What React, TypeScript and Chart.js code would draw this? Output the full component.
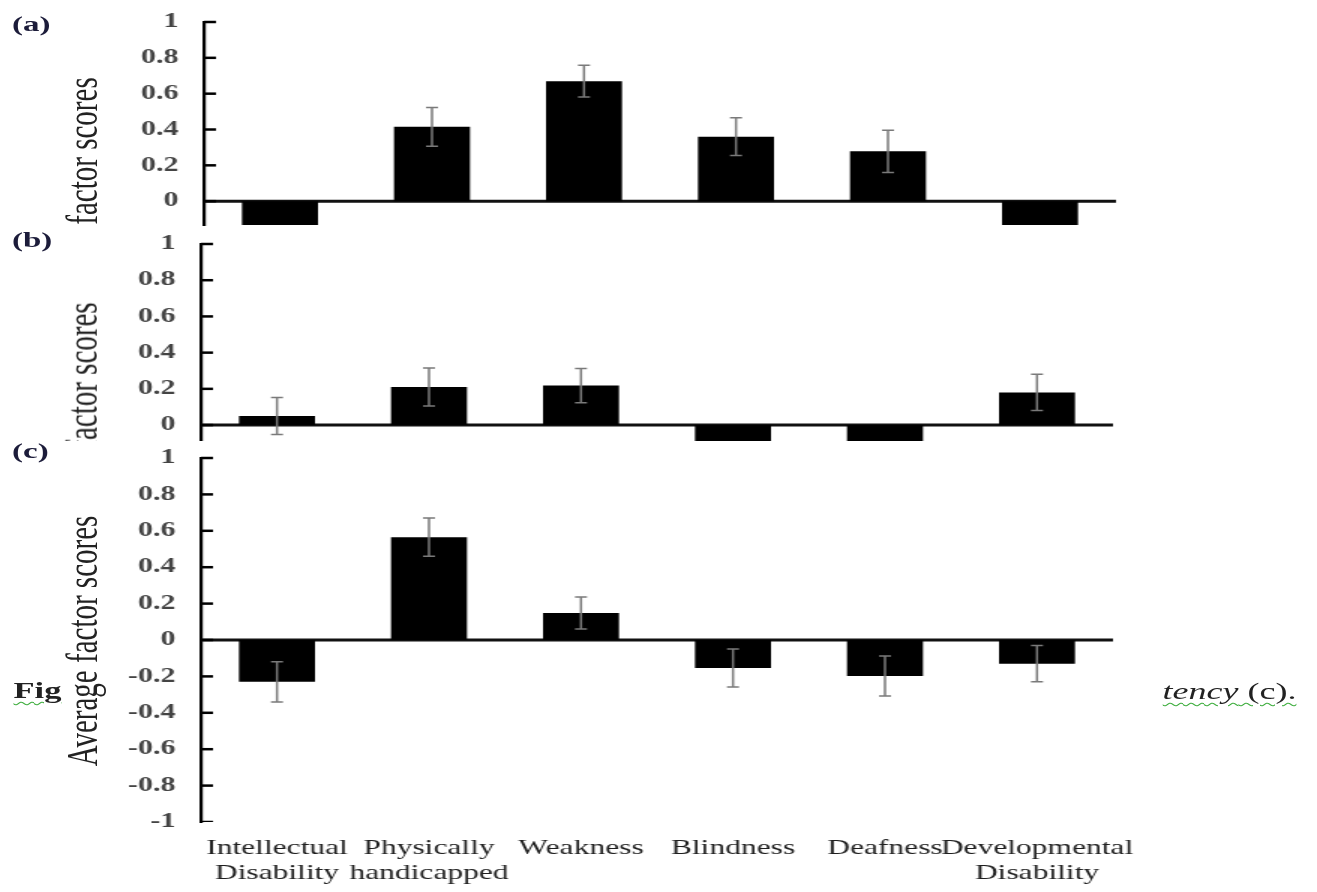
import React, { useEffect, useRef } from 'react';
import { Chart, registerables } from 'chart.js';

Chart.register(...registerables);

// ---------- data ----------
const CATEGORIES: string[][] = [
  ['Intellectual', 'Disability'],
  ['Physically', 'handicapped'],
  ['Weakness'],
  ['Blindness'],
  ['Deafness'],
  ['Developmental', 'Disability'],
];

const A_VALUES = [-0.25, 0.415, 0.67, 0.36, 0.278, -0.25];
const A_ERRORS = [0.1, 0.108, 0.088, 0.105, 0.118, 0.1];

const B_VALUES = [0.05, 0.21, 0.218, -0.2, -0.2, 0.18];
const B_ERRORS = [0.102, 0.105, 0.095, 0.1, 0.1, 0.1];

const C_VALUES = [-0.23, 0.565, 0.148, -0.154, -0.198, -0.13];
const C_ERRORS = [0.11, 0.105, 0.088, 0.104, 0.11, 0.1];

const Y_TICKS_POS = [0, 0.2, 0.4, 0.6, 0.8, 1];
const Y_TICKS_FULL = [-1, -0.8, -0.6, -0.4, -0.2, 0, 0.2, 0.4, 0.6, 0.8, 1];

// ---------- layout ----------
const STRETCH = 1.5;
const PAGE_W = 1317 / STRETCH;
const SERIF = '"Liberation Serif", "Times New Roman", serif';

const fmt = (v: number) => Number(v).toFixed(1).replace(/\.0$/, '');

type PanelProps = {
  top: number;
  height: number;
  values: number[];
  errors: number[];
  yMin: number;
  yMax: number;
  ticks: number[];
  axisLeft: number;
  axisRight: number;
  chartTop: number;
  chartBottom: number;
  showX: boolean;
  title: string;
  titleY: number;
};

function BarPanel(p: PanelProps) {
  const ref = useRef<HTMLCanvasElement | null>(null);

  useEffect(() => {
    if (!ref.current) return;
    const decor = {
      id: 'decor',
      beforeDatasetsDraw(chart: any) {
        const { ctx, chartArea, scales } = chart;
        const y = scales.y;
        ctx.save();
        ctx.beginPath();
        ctx.rect(chartArea.left - 2, chartArea.top - 3, chartArea.width + 6, chartArea.height + 4);
        ctx.clip();
        const y0 = y.getPixelForValue(0);
        ctx.strokeStyle = '#111';
        ctx.lineWidth = 3;
        ctx.beginPath();
        ctx.moveTo(chartArea.left, y0);
        ctx.lineTo(chartArea.right, y0);
        ctx.stroke();
        ctx.restore();
      },
      afterDatasetsDraw(chart: any) {
        const { ctx, chartArea, scales } = chart;
        const y = scales.y;
        ctx.save();
        ctx.beginPath();
        ctx.rect(chartArea.left - 2, chartArea.top - 3, chartArea.width + 6, chartArea.height + 3);
        ctx.clip();
        // inward tick marks
        ctx.strokeStyle = '#000';
        ctx.lineWidth = 2.5;
        y.ticks.forEach((t: any) => {
          const py = y.getPixelForValue(t.value);
          ctx.beginPath();
          ctx.moveTo(chartArea.left, py);
          ctx.lineTo(chartArea.left + 8, py);
          ctx.stroke();
        });
        // error bars
        const meta = chart.getDatasetMeta(0);
        ctx.strokeStyle = '#7a7a7a';
        ctx.lineWidth = 1.5;
        meta.data.forEach((bar: any, i: number) => {
          const v = p.values[i];
          const e = p.errors[i];
          const yt = y.getPixelForValue(v + e);
          const yb = y.getPixelForValue(v - e);
          const cap = 4;
          ctx.beginPath();
          ctx.moveTo(bar.x, yt);
          ctx.lineTo(bar.x, yb);
          ctx.moveTo(bar.x - cap, yt);
          ctx.lineTo(bar.x + cap, yt);
          ctx.moveTo(bar.x - cap, yb);
          ctx.lineTo(bar.x + cap, yb);
          ctx.stroke();
        });
        ctx.restore();
      },
    };

    const chart = new Chart(ref.current, {
      type: 'bar',
      data: {
        labels: CATEGORIES,
        datasets: [
          {
            data: p.values,
            backgroundColor: '#000',
            borderWidth: 0,
            barPercentage: 0.5,
            categoryPercentage: 1,
          },
        ],
      },
      options: {
        animation: false,
        responsive: false,
        events: [],
        layout: {
          padding: {
            left: 0,
            right: PAGE_W - p.axisRight,
            top: p.chartTop,
            bottom: p.showX ? 0 : p.height - p.chartBottom,
          },
        },
        plugins: { legend: { display: false }, tooltip: { enabled: false } },
        scales: {
          x: {
            display: p.showX,
            grid: { display: false, drawTicks: false },
            border: { display: false },
            ticks: {
              autoSkip: false,
              maxRotation: 0,
              minRotation: 0,
              padding: 14,
              color: '#1e1e1e',
              font: { family: SERIF, size: 21 },
            },
            afterFit: (s: any) => {
              s.height = p.height - p.chartBottom;
              s.paddingLeft = 0;
              s.paddingRight = 0;
            },
          },
          y: {
            min: p.yMin,
            max: p.yMax,
            grid: { display: false, drawTicks: false },
            border: { display: true, color: '#000', width: 2.2 },
            ticks: {
              padding: 17,
              color: '#444',
              font: { family: SERIF, size: 20, weight: 'bold' },
              callback: (v: any) => fmt(Number(v)),
            },
            afterBuildTicks: (s: any) => {
              s.ticks = p.ticks.map((value) => ({ value }));
            },
            afterFit: (s: any) => {
              s.width = p.axisLeft;
              s.paddingTop = 0;
              s.paddingBottom = 0;
            },
          },
        },
      },
      plugins: [decor],
    } as any);
    return () => chart.destroy();
  }, []);

  return (
    <div
      style={{
        position: 'absolute',
        left: 0,
        top: p.top,
        width: PAGE_W,
        height: p.height,
        overflow: 'hidden',
      }}
    >
      <canvas
        ref={ref}
        width={PAGE_W}
        height={p.height}
        style={{ position: 'absolute', left: 0, top: 0 }}
      />
      <div
        style={{
          position: 'absolute',
          left: 55,
          top: p.titleY,
          transform: 'translate(-50%, -50%) rotate(-90deg)',
          whiteSpace: 'nowrap',
          fontFamily: SERIF,
          fontSize: 29,
          lineHeight: 1,
          color: '#222',
        }}
      >
        {p.title}
      </div>
    </div>
  );
}

const labelStyle: React.CSSProperties = {
  position: 'absolute',
  fontFamily: SERIF,
  fontSize: 22,
  fontWeight: 'bold',
  color: '#1c1c3a',
  lineHeight: 1,
  whiteSpace: 'nowrap',
};

const noteStyle: React.CSSProperties = {
  position: 'absolute',
  fontFamily: SERIF,
  color: '#222',
  lineHeight: 1,
  whiteSpace: 'nowrap',
  textDecorationLine: 'underline',
  textDecorationStyle: 'wavy',
  textDecorationColor: '#3fae3f',
  textDecorationThickness: '1px',
  textUnderlineOffset: '3px',
};

export default function App() {
  return (
    <div
      style={{
        position: 'fixed',
        left: 0,
        top: 0,
        width: PAGE_W,
        height: 892,
        background: '#fff',
        transform: `scaleX(${STRETCH})`,
        transformOrigin: '0 0',
        overflow: 'hidden',
      }}
    >
      <BarPanel
        top={0}
        height={229}
        values={A_VALUES}
        errors={A_ERRORS}
        yMin={-0.133}
        yMax={1}
        ticks={Y_TICKS_POS}
        axisLeft={136}
        axisRight={744}
        chartTop={22}
        chartBottom={227}
        showX={false}
        title="factor scores"
        titleY={151}
      />
      <BarPanel
        top={229}
        height={212}
        values={B_VALUES}
        errors={B_ERRORS}
        yMin={-0.088}
        yMax={1}
        ticks={Y_TICKS_POS}
        axisLeft={134}
        axisRight={742}
        chartTop={15}
        chartBottom={212}
        showX={false}
        title="factor scores"
        titleY={147}
      />
      <BarPanel
        top={441}
        height={451}
        values={C_VALUES}
        errors={C_ERRORS}
        yMin={-1}
        yMax={1}
        ticks={Y_TICKS_FULL}
        axisLeft={134}
        axisRight={742}
        chartTop={17}
        chartBottom={381}
        showX={true}
        title="Average factor scores"
        titleY={200}
      />
      <div style={{ ...labelStyle, left: 8, top: 13 }}>(a)</div>
      <div style={{ ...labelStyle, left: 8, top: 229 }}>(b)</div>
      <div style={{ ...labelStyle, left: 8, top: 440 }}>(c)</div>
      <div style={{ ...noteStyle, left: 9, top: 679, fontSize: 23, fontWeight: 'bold' }}>Fig</div>
      <div style={{ ...noteStyle, left: 775, top: 679, fontSize: 24 }}>
        <i>tency</i> (c).
      </div>
    </div>
  );
}
